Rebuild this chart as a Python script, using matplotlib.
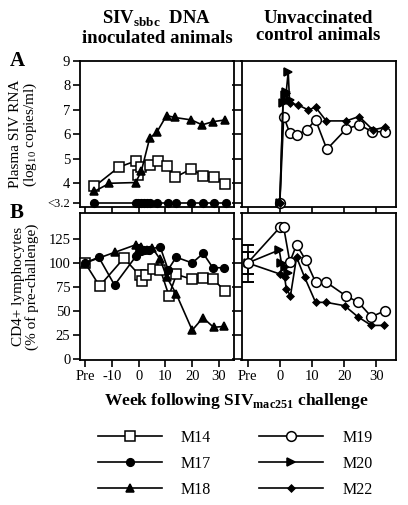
import matplotlib
matplotlib.use("Agg")
import matplotlib.pyplot as plt
from matplotlib.lines import Line2D

plt.rcParams['font.family'] = ['Liberation Serif', 'DejaVu Serif']
plt.rcParams['mathtext.fontset'] = 'custom'
plt.rcParams['mathtext.rm'] = 'Liberation Serif'
plt.rcParams['mathtext.bf'] = 'Liberation Serif:bold'

# ---------------- data ----------------
# Panel A, vaccinated (log10 copies/ml; 3.2 = below detection)
m14_a_wk = [-16.5, -7.4, -0.9, -0.1, 1.0, 4.1, 7.2, 10.4, 13.7, 19.7, 23.9, 28.1, 32.3]
m14_a = [3.87, 4.66, 4.92, 4.35, 4.65, 4.76, 4.92, 4.69, 4.25, 4.59, 4.31, 4.25, 3.98]
m17_a_wk = [-16.5, -1.1, -0.3, 0.7, 1.9, 3.1, 4.1, 6.9, 11.0, 13.9, 19.7, 24.1, 28.2, 32.6]
m17_a = [3.2] * 14
m18_a_wk = [-16.5, -10.9, -1.1, 1.0, 4.1, 6.9, 10.4, 13.5, 19.7, 23.7, 27.8, 32.3]
m18_a = [3.67, 4.0, 4.03, 4.5, 5.84, 6.11, 6.77, 6.69, 6.59, 6.39, 6.52, 6.59]

# Panel A, controls
m19_a_wk = [0, 1.2, 3.1, 5.2, 8.3, 11.1, 14.6, 20.6, 24.6, 28.7, 32.5]
m19_a = [3.2, 6.73, 6.05, 5.98, 6.18, 6.59, 5.39, 6.22, 6.39, 6.11, 6.11]
m20_a_wk = [0, 1.0, 1.5, 2.0, 2.6, 3.0]
m20_a = [3.2, 7.3, 7.6, 7.75, 8.56, 7.4]
m22_a_wk = [0, 1.0, 2.0, 3.1, 5.7, 8.8, 11.1, 14.4, 20.6, 24.6, 28.9, 32.5]
m22_a = [3.2, 7.4, 7.68, 7.28, 7.2, 7.0, 7.11, 6.55, 6.55, 6.73, 6.18, 6.29]

# Panel B, vaccinated (% of pre-challenge CD4+)
m14_b_wk = [-20, -14.6, -5.5, 0.4, 1.4, 2.6, 5.4, 8.1, 11.3, 14.1, 20.0, 24.1, 27.8, 32.2]
m14_b = [100, 76, 105, 87, 81, 87, 94, 93, 66, 88, 83, 84, 83, 71]
m17_b_wk = [-20, -14.9, -9.0, -1.0, 0.0, 1.0, 2.0, 4.0, 8.0, 11.0, 14.0, 20.0, 24.1, 27.7, 32.0]
m17_b = [100, 106, 77, 107, 116, 112, 113, 114, 117, 93, 106, 100, 110, 95, 95]
m18_b_wk = [-20, -9.0, -1.0, 0.0, 1.0, 3.0, 5.0, 8.0, 10.5, 14.0, 20.0, 24.0, 28.0, 32.0]
m18_b = [100, 111, 119, 115, 117, 113, 116, 104, 85, 68, 30, 43, 33, 34]

# Panel B, controls
m19_b_wk = [-10, 0, 1.2, 3.1, 5.2, 8.0, 11.1, 14.4, 20.4, 24.4, 28.4, 32.5]
m19_b = [100, 137, 137, 101, 119, 103, 80, 80, 66, 59, 44, 50]
m20_b_wk = [-10, -0.2, 0.5, 1.5, 2.5]
m20_b = [100, 113.5, 100, 96, 90]
m22_b_wk = [-10, 0, 1.5, 2.0, 3.3, 5.2, 7.7, 11.1, 14.4, 20.1, 24.2, 28.4, 32.2]
m22_b = [100, 88.5, 85, 73, 66, 106, 85, 59, 59, 55.5, 44, 35, 35]

# pre-challenge error bars (controls)
pre_err_low = [19.5, 11.5]
pre_err_high = [19.0, 11.8]

left_ticks = [-20, -10, 0, 10, 20, 30]
left_ticklabels = ["Pre", "-10", "0", "10", "20", "30"]
right_ticks = [-10, 0, 10, 20, 30]
right_ticklabels = ["Pre", "0", "10", "20", "30"]
rna_ticks = [3.2, 4, 5, 6, 7, 8, 9]
rna_ticklabels = ["<3.2", "4", "5", "6", "7", "8", "9"]
cd4_ticks = [0, 25, 50, 75, 100, 125]

names = ["M14", "M17", "M18", "M19", "M20", "M22"]
styles = {
    "M14": dict(marker='s', mfc='white', ms=6.5),
    "M17": dict(marker='o', mfc='black', ms=5.5),
    "M18": dict(marker='^', mfc='black', ms=5.5),
    "M19": dict(marker='o', mfc='white', ms=7),
    "M20": dict(marker='>', mfc='black', ms=6),
    "M22": dict(marker='D', mfc='black', ms=3.5),
}

# ---------------- figure ----------------
W, H = 408, 505
fig = plt.figure(figsize=(W / 100, H / 100), dpi=100)

def px_axes(x0, y0, x1, y1):
    return fig.add_axes([x0 / W, 1 - y1 / H, (x1 - x0) / W, (y1 - y0) / H])

axA1 = px_axes(80, 61, 234, 207)
axA2 = px_axes(241.5, 61, 395.5, 207)
axB1 = px_axes(80, 213, 234, 360)
axB2 = px_axes(241.5, 213, 395.5, 360)

def plot(ax, name, wk, val):
    st = styles[name]
    ax.plot(wk, val, color='black', lw=1.2, marker=st['marker'], mfc=st['mfc'],
            mec='black', ms=st['ms'], mew=1.1, clip_on=False, zorder=3)

plot(axA1, "M14", m14_a_wk, m14_a)
plot(axA1, "M17", m17_a_wk, m17_a)
plot(axA1, "M18", m18_a_wk, m18_a)
plot(axA2, "M19", m19_a_wk, m19_a)
plot(axA2, "M22", m22_a_wk, m22_a)
plot(axA2, "M20", m20_a_wk, m20_a)

plot(axB1, "M14", m14_b_wk, m14_b)
plot(axB1, "M17", m17_b_wk, m17_b)
plot(axB1, "M18", m18_b_wk, m18_b)
plot(axB2, "M22", m22_b_wk, m22_b)
plot(axB2, "M20", m20_b_wk, m20_b)
plot(axB2, "M19", m19_b_wk, m19_b)
for lo, hi in zip(pre_err_low, pre_err_high):
    axB2.errorbar([right_ticks[0]], [100], yerr=[[lo], [hi]], fmt='none',
                  ecolor='black', elinewidth=1.2, capsize=4, capthick=1.4, zorder=2)

for ax in (axA1, axA2, axB1, axB2):
    for s in ax.spines.values():
        s.set_linewidth(1.3)
    ax.tick_params(direction='out', length=5, width=1.2, labelsize=10.5, pad=2)

for ax in (axA1, axA2):
    ax.set_ylim(3.03, 9.0)
    ax.set_yticks(rna_ticks)
for ax in (axB1, axB2):
    ax.set_ylim(-1, 152)
    ax.set_yticks(cd4_ticks)

for ax in (axA1, axB1):
    ax.set_xlim(-21.9, 35.6)
    ax.set_xticks(left_ticks)
for ax in (axA2, axB2):
    ax.set_xlim(-11.9, 35.9)
    ax.set_xticks(right_ticks)

axA1.set_yticklabels(rna_ticklabels)
for lab in axA1.get_yticklabels():
    if lab.get_text().startswith("<"):
        lab.set_fontsize(9)
axA1.tick_params(axis='x', labelbottom=False, length=6)
axA2.tick_params(axis='x', labelbottom=False, length=6)
axA2.tick_params(axis='y', labelleft=False, length=7)
axB2.tick_params(axis='y', labelleft=False, length=7)
axB1.set_xticklabels(left_ticklabels)
axB2.set_xticklabels(right_ticklabels)

axA1.set_ylabel("Plasma SIV RNA\n(log$_{10}$ copies/ml)", fontsize=11,
                linespacing=1.0)
axB1.set_ylabel("CD4+ lymphocytes\n(% of pre-challenge)", fontsize=11,
                linespacing=1.0)
axA1.yaxis.set_label_coords(-0.265, 0.5)
axB1.yaxis.set_label_coords(-0.265, 0.5)

fig.text(157 / W, 1 - 28 / H, "SIV$_{\\mathbf{sbbc}}$  DNA\ninoculated animals",
         ha='center', va='center', fontsize=13.5, fontweight='bold', linespacing=1.05)
fig.text(318 / W, 1 - 27 / H, "Unvaccinated\ncontrol animals",
         ha='center', va='center', fontsize=13.5, fontweight='bold', linespacing=1.05)
fig.text(10 / W, 1 - 61 / H, "A", fontsize=15, fontweight='bold', va='center')
fig.text(10 / W, 1 - 213 / H, "B", fontsize=15, fontweight='bold', va='center')
fig.text(236 / W, 1 - 401 / H, "Week following SIV$_{\\mathbf{mac251}}$ challenge",
         ha='center', va='center', fontsize=12.5, fontweight='bold')

handles = [Line2D([], [], color='black', lw=1.2, marker=styles[n]['marker'],
                  mfc=styles[n]['mfc'], mec='black', ms=styles[n]['ms'], mew=1.1)
           for n in names]
fig.legend(handles, names, ncol=2, loc='upper left',
           bbox_to_anchor=(98 / W, 1 - 430 / H), frameon=False, fontsize=11.5,
           handlelength=4.0, handletextpad=1.2, columnspacing=3.0,
           labelspacing=0.62, borderpad=0, borderaxespad=0)

fig.savefig("out.png", dpi=100)
